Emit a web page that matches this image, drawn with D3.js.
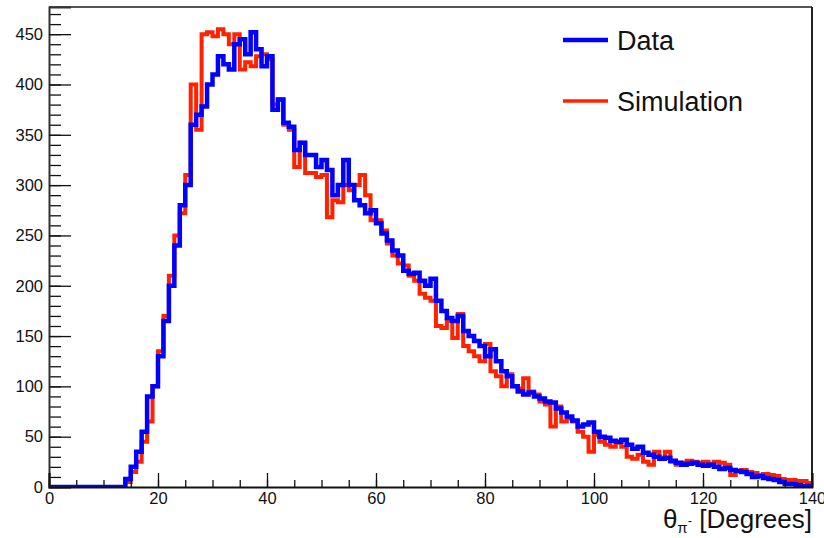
<!DOCTYPE html>
<html>
<head>
<meta charset="utf-8">
<script src="https://cdn.jsdelivr.net/npm/d3@7"></script>
<style>
  html, body { margin: 0; padding: 0; background: #fff; }
  svg { display: block; font-family: "Liberation Sans", Arial, Helvetica, sans-serif; }
</style>
</head>
<body>
<svg id="chart" width="824" height="538"></svg>
<script>
// Bin lower edges (1 degree wide bins from 0 to 140)
const binEdges = d3.range(0, 141, 1);

// Data (blue) bin contents, bins 0..139
const dataValues = [
  0,0,0,0,0,0,0,0,0,0, 0,0,0,0,8,20,35,55,90,100,
  130,165,200,240,280,300,360,370,378,400, 410,428,420,415,440,445,430,452,435,418,
  428,375,385,362,358,335,342,330,330,318, 325,315,290,300,325,300,285,280,272,275,
  262,252,245,235,230,215,212,213,205,200, 207,185,175,168,165,170,155,150,145,140,
  130,137,125,115,110,100,95,92,94,90, 88,85,84,78,74,70,66,60,62,64,
  55,50,49,46,45,47,42,38,40,34, 32,30,28,29,26,24,22,23,24,22,
  21,22,20,18,19,17,16,15,13,10, 11,9,8,7,5,3,3,2,1,1
];

// Simulation (red) bin contents, bins 0..139
const simValues = [
  0,0,0,0,0,0,0,0,0,0, 0,0,0,0,5,15,25,45,65,100,
  135,170,210,250,272,310,400,355,450,452, 448,455,450,440,450,415,422,418,428,430,
  425,380,385,360,355,318,342,312,312,308, 310,268,285,283,300,295,300,310,290,265,
  265,255,242,230,222,220,210,205,192,188, 185,160,158,165,148,172,140,135,130,125,
  142,115,110,100,112,100,98,108,95,92, 85,82,60,80,65,68,65,55,50,35,
  52,45,42,40,44,40,30,28,32,25, 22,35,28,35,25,22,24,26,25,24,
  25,23,25,24,22,12,16,17,15,14, 12,13,12,11,8,7,7,6,6,4
];

const xMajorTicks = [0, 20, 40, 60, 80, 100, 120, 140];
const yMajorTicks = [0, 50, 100, 150, 200, 250, 300, 350, 400, 450];
const legendLabels = ["Data", "Simulation"];
const seriesColors = ["#0000ff", "#ff2200"];

const svg = d3.select("#chart");
const x = d3.scaleLinear().domain([0, 140]).range([49, 812]);
const y = d3.scaleLinear().domain([0, 477]).range([487, 7]);

// clip
svg.append("defs").append("clipPath").attr("id", "plotclip")
  .append("rect").attr("x", 49).attr("y", 7).attr("width", 763).attr("height", 481);

function histPoints(vals) {
  const pts = vals.map((v, i) => [binEdges[i], v]);
  pts.push([binEdges[vals.length], vals[vals.length - 1]]);
  return pts;
}
const line = d3.line().x(d => x(d[0])).y(d => y(d[1])).curve(d3.curveStepAfter);

const plot = svg.append("g").attr("clip-path", "url(#plotclip)");
plot.append("path").datum(histPoints(simValues))
  .attr("d", line).attr("fill", "none").attr("stroke", seriesColors[1])
  .attr("stroke-width", 4).attr("stroke-linejoin", "miter");
plot.append("path").datum(histPoints(dataValues))
  .attr("d", line).attr("fill", "none").attr("stroke", seriesColors[0])
  .attr("stroke-width", 4.5).attr("stroke-linejoin", "miter");

// frame
svg.append("line").attr("x1", 49).attr("x2", 812).attr("y1", 7).attr("y2", 7)
  .attr("stroke", "#555").attr("stroke-width", 2);
svg.append("line").attr("x1", 812).attr("x2", 812).attr("y1", 7).attr("y2", 487)
  .attr("stroke", "#222").attr("stroke-width", 2);

// y axis minor
const yMinor = svg.append("g").attr("transform", "translate(49,0)")
  .call(d3.axisLeft(y).tickValues(d3.range(0, 477, 10)).tickSize(-12).tickFormat(""));
yMinor.select(".domain").remove();
yMinor.selectAll("line").attr("stroke", "#111").attr("stroke-width", 1.3);

const yMajor = svg.append("g").attr("transform", "translate(49,0)")
  .call(d3.axisLeft(y).tickValues(yMajorTicks).tickSize(-22).tickPadding(6).tickFormat(d3.format("d")));
yMajor.select(".domain").attr("stroke", "#333").attr("stroke-width", 2);
yMajor.selectAll("line").attr("stroke", "#111").attr("stroke-width", 1.3);
yMajor.selectAll("text").attr("font-size", 16.5).attr("fill", "#111")
  .attr("font-family", "'Liberation Sans', Arial, sans-serif");

// x axis
const xMinor = svg.append("g").attr("transform", "translate(0,487)")
  .call(d3.axisBottom(x).tickValues(d3.range(0, 141, 5)).tickSize(-7).tickFormat(""));
xMinor.select(".domain").remove();
xMinor.selectAll("line").attr("stroke", "#111").attr("stroke-width", 1.3);

const xMajor = svg.append("g").attr("transform", "translate(0,487)")
  .call(d3.axisBottom(x).tickValues(xMajorTicks).tickSize(-14).tickPadding(5).tickFormat(d3.format("d")));
xMajor.select(".domain").attr("stroke", "#111").attr("stroke-width", 2);
xMajor.selectAll("line").attr("stroke", "#111").attr("stroke-width", 1.3);
xMajor.selectAll("text").attr("font-size", 16.5).attr("fill", "#111")
  .attr("font-family", "'Liberation Sans', Arial, sans-serif");

// x title
const title = svg.append("text").attr("x", 812).attr("y", 528).attr("text-anchor", "end")
  .attr("font-size", 26).attr("fill", "#111");
title.append("tspan").text("θ");
title.append("tspan").attr("font-size", 15).attr("dy", 5).text("π");
title.append("tspan").attr("font-size", 13).attr("dy", -8).text("-");
title.append("tspan").attr("dy", 3).text(" [Degrees]");

// legend
const legend = svg.append("g");
legendLabels.forEach((lab, i) => {
  const cy = 40 + i * 61;
  legend.append("line").attr("x1", 563).attr("x2", 608).attr("y1", cy).attr("y2", cy)
    .attr("stroke", seriesColors[i]).attr("stroke-width", i === 0 ? 4.5 : 3.5);
  legend.append("text").attr("x", 617).attr("y", cy + 10).attr("font-size", 27)
    .attr("fill", "#111").text(lab);
});
</script>
</body>
</html>
